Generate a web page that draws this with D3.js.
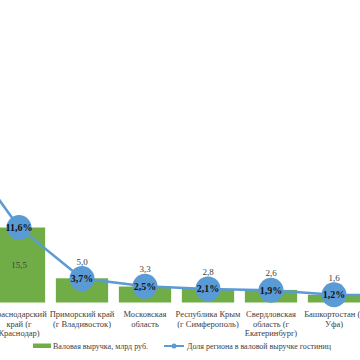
<!DOCTYPE html>
<html>
<head>
<meta charset="utf-8">
<script src="https://cdn.jsdelivr.net/npm/d3@7"></script>
<style>
  body { margin: 0; background: #fff; }
  svg { display: block; }
  text { font-family: "Liberation Serif", "Times New Roman", serif; }
</style>
</head>
<body>
<script>
var width = 360;
var height = 360;

// regions (first and last are cut off by the frame)
var regions = ["moscow", "krasnodar", "primorsky", "mosobl", "crimea", "sverdlovsk", "bashkortostan", "tatarstan"];
var regionLabels = [
  ["г Москва"],
  ["Краснодарский", "край (г", "Краснодар)"],
  ["Приморский край", "(г Владивосток)"],
  ["Московская", "область"],
  ["Республика Крым", "(г Симферополь)"],
  ["Свердловская", "область (г", "Екатеринбург)"],
  ["Башкортостан (г", "Уфа)"],
  ["Татарстан (г", "Казань)"]
];
var revenue = [33.7, 15.5, 5.0, 3.3, 2.8, 2.6, 1.6, 1.5];       // млрд руб.
var revenueLabels = ["33,7", "15,5", "5,0", "3,3", "2,8", "2,6", "1,6", "1,5"];
var share = [25.2, 11.6, 3.7, 2.5, 2.1, 1.9, 1.2, 1.1];        // %
var shareLabels = ["25,2%", "11,6%", "3,7%", "2,5%", "2,1%", "1,9%", "1,2%", "1,1%"];
var insideLabel = [true, true, false, false, false, false, false, false];

var green = "#70ad47";
var blue = "#5b9bd5";

var svg = d3.select("body")
            .append("svg")
            .attr("width", width)
            .attr("height", height);

var x = d3.scalePoint()
          .domain(regions)
          .range([-75.5, 428.5])
          .padding(0.5);
var step = x.step();
var barW = step * 0.83;

var yBar = d3.scaleLinear().domain([0, 15.5]).range([302.5, 227.5]);
var yLine = d3.scaleLinear().domain([0, 11.6]).range([302.5, 227.5]);

// only regions whose centre is inside the frame get texts
var inFrame = regions.filter(function(d) { return x(d) > 0 && x(d) < width; });
var idx = function(d) { return regions.indexOf(d); };

// bars
svg.selectAll("rect.bar")
  .data(regions)
  .enter().append("rect")
  .attr("class", "bar")
  .attr("x", function(d) { return x(d) - barW / 2; })
  .attr("y", function(d, i) { return yBar(revenue[i]); })
  .attr("width", barW)
  .attr("height", function(d, i) { return yBar(0) - yBar(revenue[i]); })
  .attr("fill", green);

// bar value labels
svg.selectAll("text.val")
  .data(inFrame)
  .enter().append("text")
  .attr("class", "val")
  .attr("x", function(d) { return x(d); })
  .attr("y", function(d) {
    var i = idx(d);
    if (insideLabel[i]) return (yBar(revenue[i]) + yBar(0)) / 2 + 3;
    return yLine(share[i]) - 14;
  })
  .attr("text-anchor", "middle")
  .attr("font-size", 9)
  .attr("fill", "#404040")
  .text(function(d) { return revenueLabels[idx(d)]; });

// share line
var line = d3.line()
  .x(function(d) { return x(d); })
  .y(function(d, i) { return yLine(share[i]); });

svg.append("path")
  .datum(regions)
  .attr("d", line)
  .attr("fill", "none")
  .attr("stroke", blue)
  .attr("stroke-width", 2.5);

svg.selectAll("circle.pt")
  .data(regions)
  .enter().append("circle")
  .attr("class", "pt")
  .attr("cx", function(d) { return x(d); })
  .attr("cy", function(d, i) { return yLine(share[i]); })
  .attr("r", 12.5)
  .attr("fill", blue);

svg.selectAll("text.pct")
  .data(inFrame)
  .enter().append("text")
  .attr("class", "pct")
  .attr("x", function(d) { return x(d); })
  .attr("y", function(d) { return yLine(share[idx(d)]) + 3.5; })
  .attr("text-anchor", "middle")
  .attr("font-size", 10)
  .attr("font-weight", "bold")
  .attr("fill", "#111")
  .text(function(d) { return shareLabels[idx(d)]; });

// category labels
var cat = svg.selectAll("text.cat")
  .data(inFrame)
  .enter().append("text")
  .attr("class", "cat")
  .attr("text-anchor", "middle")
  .attr("font-size", 8.5)
  .attr("fill", "#404040");

cat.each(function(d) {
  var t = d3.select(this);
  regionLabels[idx(d)].forEach(function(s, j) {
    t.append("tspan")
      .attr("x", x(d))
      .attr("y", 317 + j * 9.5)
      .text(s);
  });
});

// legend
var lg = svg.append("g");
lg.append("rect")
  .attr("x", 33).attr("y", 343.5)
  .attr("width", 18).attr("height", 4.5)
  .attr("fill", green);
lg.append("text")
  .attr("x", 53).attr("y", 349)
  .attr("font-size", 8.5)
  .attr("fill", "#404040")
  .attr("textLength", 95)
  .attr("lengthAdjust", "spacingAndGlyphs")
  .text("Валовая выручка, млрд руб.");
lg.append("line")
  .attr("x1", 164).attr("x2", 184)
  .attr("y1", 346).attr("y2", 346)
  .attr("stroke", blue)
  .attr("stroke-width", 2);
lg.append("circle")
  .attr("cx", 174).attr("cy", 346)
  .attr("r", 2.5)
  .attr("fill", blue);
lg.append("text")
  .attr("x", 187).attr("y", 349)
  .attr("font-size", 8.5)
  .attr("fill", "#404040")
  .attr("textLength", 144)
  .attr("lengthAdjust", "spacingAndGlyphs")
  .text("Доля региона в валовой выручке гостиниц");
</script>
</body>
</html>
